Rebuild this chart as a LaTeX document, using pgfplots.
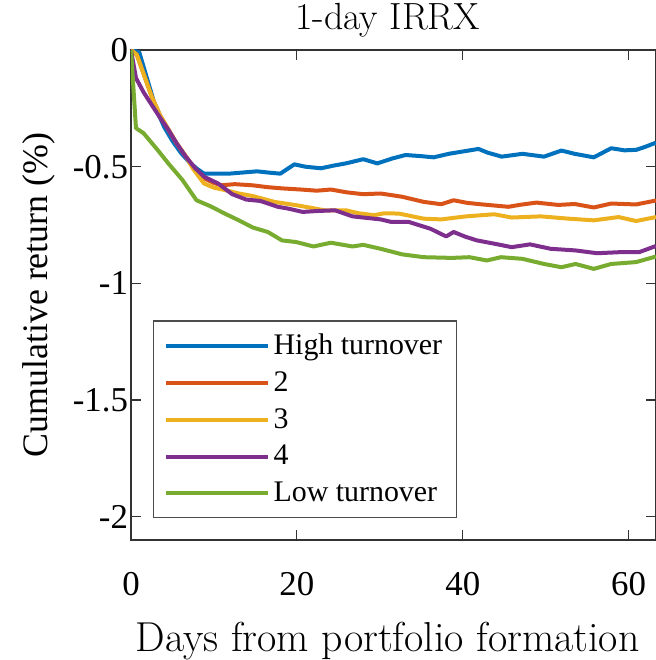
\documentclass[border=0pt]{standalone}
\usepackage{pgfplots}
\pgfplotsset{compat=1.18}
\usepackage{fontspec}
\newfontfamily\tnr{Liberation Serif}
\definecolor{c1}{rgb}{0,0.447,0.741}
\definecolor{c2}{rgb}{0.85,0.325,0.098}
\definecolor{c3}{rgb}{0.929,0.694,0.125}
\definecolor{c4}{rgb}{0.494,0.184,0.556}
\definecolor{c5}{rgb}{0.466,0.674,0.188}
\begin{document}
\begin{tikzpicture}
\begin{axis}[
  name=a,
  width=262.5bp, height=245bp, scale only axis,
  xmin=0, xmax=63.3, ymin=-2.1, ymax=0,
  xtick={0,20,40,60}, ytick={-2,-1.5,-1,-0.5,0},
  tick align=inside, major tick length=5bp,
  axis line style={black!80, line width=0.7bp},
  tick style={black!80, line width=0.6bp},
  /pgf/number format/assume math mode=true,
  tick label style={font=\tnr\fontsize{17.5}{17.5}\selectfont},
  xticklabel style={yshift=-12.5bp},
  yticklabel style={xshift=2bp},
  title={\fontsize{19}{19}\selectfont 1-day IRRX},
  title style={yshift=-3bp, xshift=-3bp},
  xlabel={\fontsize{21}{21}\selectfont Days from portfolio formation},
  ylabel={\tnr\fontsize{18}{18}\selectfont Cumulative return (\%)},
  xlabel style={yshift=-6.5bp, xshift=-3bp},
  ylabel style={yshift=2bp},
  legend style={at={(0.042,0.045)}, anchor=south west, draw=black!70, line width=0.6bp,
    font=\tnr\fontsize{15}{16}\selectfont, row sep=3bp, inner xsep=5bp, inner ysep=4.5bp},
  legend cell align=left,
  legend image code/.code={\draw[#1, line width=2bp] (0bp,0bp) -- (51bp,0bp);},
  every axis plot/.append style={line width=2bp, line join=round},
]
\addplot[c1] coordinates {(0,0)(1,-0.01)(2,-0.13)(3,-0.25)(4,-0.33)(5,-0.39)(6,-0.44)(7,-0.48)(8,-0.51)(8.8,-0.53)(10,-0.53)(11.8,-0.53)(13.5,-0.525)(15.2,-0.52)(16.5,-0.525)(18,-0.53)(19.7,-0.49)(21,-0.5)(22.9,-0.507)(24.5,-0.495)(25.9,-0.486)(28,-0.468)(29.7,-0.486)(31.5,-0.465)(33.1,-0.45)(35,-0.455)(36.5,-0.46)(38.3,-0.445)(40,-0.435)(41.9,-0.424)(43,-0.44)(44.7,-0.457)(47.2,-0.445)(49.8,-0.457)(51.9,-0.431)(53.5,-0.445)(55.8,-0.46)(57.9,-0.421)(59.5,-0.43)(60.9,-0.428)(62,-0.415)(63.3,-0.397)};
\addlegendentry{High turnover}
\addplot[c2] coordinates {(0,0)(0.7,-0.02)(1.5,-0.1)(2.5,-0.2)(3.5,-0.28)(4.5,-0.34)(5.5,-0.4)(6.5,-0.45)(7.5,-0.5)(8.8,-0.55)(10,-0.57)(10.9,-0.58)(12.5,-0.575)(14.7,-0.58)(16.5,-0.588)(18.2,-0.593)(20.5,-0.598)(22.4,-0.603)(24.1,-0.598)(26,-0.61)(28,-0.618)(30.1,-0.615)(32.7,-0.629)(35.3,-0.651)(37.4,-0.661)(38.9,-0.644)(40.5,-0.655)(42.1,-0.661)(45.5,-0.672)(47,-0.663)(48.9,-0.654)(51.5,-0.664)(53.5,-0.66)(55.8,-0.675)(57.9,-0.658)(60.9,-0.662)(63.3,-0.645)};
\addlegendentry{2}
\addplot[c3] coordinates {(0,0)(0.7,-0.02)(1.5,-0.1)(2.5,-0.2)(3.5,-0.28)(4.5,-0.34)(5.5,-0.4)(6.5,-0.45)(7.5,-0.51)(8.8,-0.572)(10,-0.59)(11.3,-0.6)(13,-0.615)(14.7,-0.626)(17.3,-0.651)(19.9,-0.665)(21.5,-0.675)(23.3,-0.687)(25.9,-0.687)(27.5,-0.7)(29.3,-0.708)(30.5,-0.7)(32.3,-0.701)(35.3,-0.723)(37.4,-0.726)(40.4,-0.713)(43.8,-0.704)(45.9,-0.718)(49.4,-0.713)(52.8,-0.723)(55.8,-0.73)(58.8,-0.716)(60.9,-0.733)(63.3,-0.716)};
\addlegendentry{3}
\addplot[c4] coordinates {(0,0)(0.6,-0.12)(1.5,-0.18)(2.35,-0.227)(3.5,-0.29)(4.5,-0.342)(5.5,-0.4)(6.6,-0.457)(7.7,-0.505)(8.8,-0.543)(10.5,-0.572)(12.2,-0.618)(13.9,-0.641)(15.6,-0.647)(17.7,-0.672)(19,-0.68)(20.7,-0.694)(22.5,-0.69)(24.6,-0.687)(26.7,-0.713)(28.5,-0.72)(30.1,-0.726)(31.4,-0.737)(33.5,-0.737)(36.1,-0.766)(38,-0.799)(38.9,-0.78)(40.3,-0.8)(41.7,-0.816)(43.8,-0.83)(45.9,-0.845)(48.1,-0.833)(50.6,-0.852)(53.6,-0.859)(56.2,-0.871)(59.2,-0.866)(61.3,-0.866)(63.3,-0.84)};
\addlegendentry{4}
\addplot[c5] coordinates {(0,0)(0.6,-0.335)(1.5,-0.356)(3.2,-0.428)(4.5,-0.486)(6.2,-0.557)(7.9,-0.644)(9.6,-0.67)(11.3,-0.701)(13,-0.73)(14.7,-0.761)(16.5,-0.78)(18.2,-0.816)(19.9,-0.823)(22,-0.842)(24.1,-0.826)(26.7,-0.842)(28,-0.835)(30.1,-0.852)(32.7,-0.876)(35.3,-0.888)(38.7,-0.891)(40.8,-0.888)(42.9,-0.902)(44.6,-0.888)(47.2,-0.895)(49.8,-0.917)(51.9,-0.931)(53.6,-0.917)(55.8,-0.938)(57.9,-0.917)(60.9,-0.909)(63.3,-0.885)};
\addlegendentry{Low turnover}
\end{axis}
\pgfresetboundingbox
\path[use as bounding box] ([xshift=-65.5bp,yshift=-60bp]a.south west) rectangle ([yshift=25bp]a.north east);
\end{tikzpicture}
\end{document}
